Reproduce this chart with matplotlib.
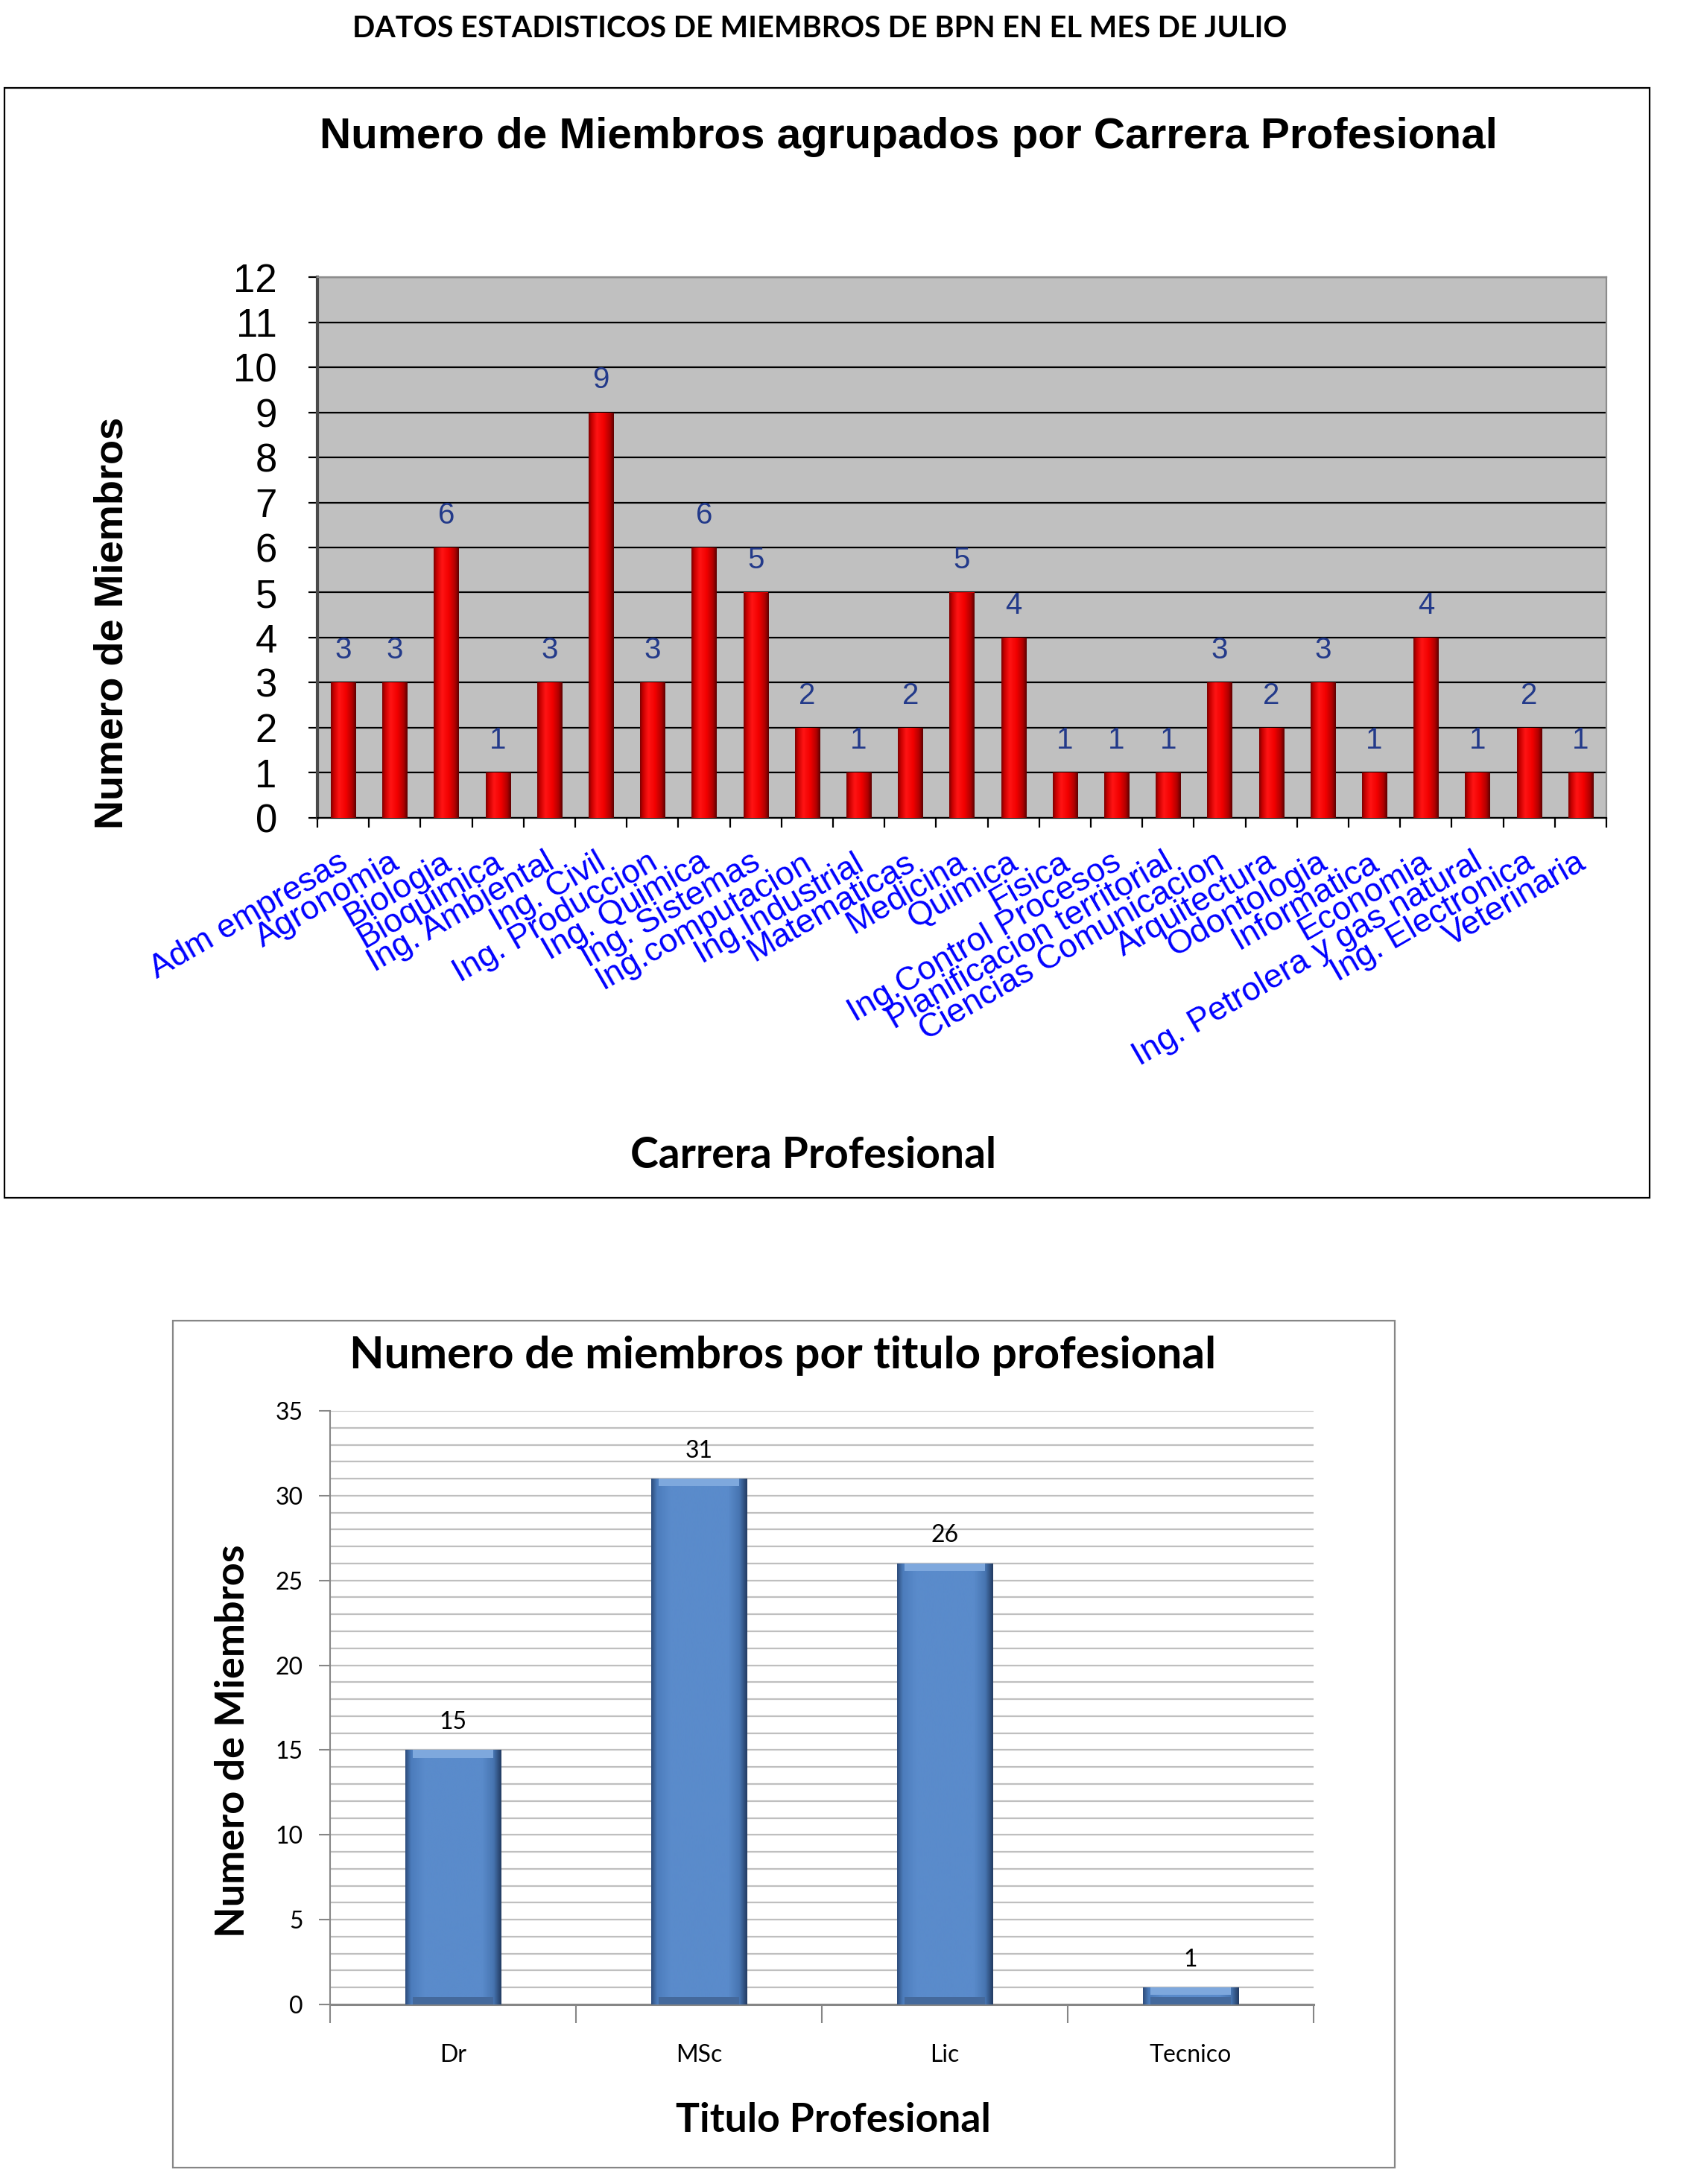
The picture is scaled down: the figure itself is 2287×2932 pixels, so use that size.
import numpy as np
import matplotlib
matplotlib.use("Agg")
import matplotlib.pyplot as plt
from matplotlib.patches import Rectangle
from matplotlib.colors import LinearSegmentedColormap
from matplotlib.transforms import ScaledTranslation

# ---------------- data ----------------
carreras = ["Adm empresas", "Agronomia", "Biologia", "Bioquimica", "Ing. Ambiental",
            "Ing. Civil", "Ing. Produccion", "Ing. Quimica", "Ing. Sistemas",
            "Ing.computacion", "Ing.Industrial", "Matematicas", "Medicina", "Quimica",
            "Fisica", "Ing.Control Procesos", "Planificacion territorial",
            "Ciencias Comunicacion", "Arquitectura", "Odontologia", "Informatica",
            "Economia", "Ing. Petrolera y gas natural", "Ing. Electronica", "Veterinaria"]
miembros_carrera = [3, 3, 6, 1, 3, 9, 3, 6, 5, 2, 1, 2, 5, 4, 1, 1, 1, 3, 2, 3, 1, 4, 1, 2, 1]
y1_ticks = list(range(0, 13))

titulos = ["Dr", "MSc", "Lic", "Tecnico"]
miembros_titulo = [15, 31, 26, 1]
y2_ticks = list(range(0, 36, 5))

titulo_general = "DATOS ESTADISTICOS DE MIEMBROS DE BPN EN EL MES DE JULIO"
titulo1 = "Numero de Miembros agrupados por Carrera Profesional"
titulo2 = "Numero de miembros por titulo profesional"

# ---------------- style ----------------
ARIAL = "Liberation Sans"
CALIBRI = "Lato"
W, H = 2287, 2932
DPI = 100

red_cmap = LinearSegmentedColormap.from_list(
    "red3d", [(0.0, "#7a0000"), (0.12, "#c80000"), (0.33, "#ff1414"),
              (0.6, "#f20000"), (0.85, "#b00000"), (1.0, "#5a0000")])
blue_cmap = LinearSegmentedColormap.from_list(
    "blue3d", [(0.0, "#2e4d7c"), (0.06, "#4c7cbc"), (0.2, "#5a8bcb"),
               (0.8, "#5a8bcb"), (0.92, "#4775b1"), (1.0, "#233b62")])


def shade_bars(ax, bars, cmap, zorder):
    grad = np.linspace(0, 1, 256).reshape(1, -1)
    for b in bars:
        x0, y0 = b.get_x(), b.get_y()
        w, h = b.get_width(), b.get_height()
        im = ax.imshow(grad, cmap=cmap, aspect="auto", interpolation="bicubic",
                       extent=(x0, x0 + w, y0, y0 + h), zorder=zorder)
        im.set_clip_path(b)


fig = plt.figure(figsize=(W / DPI, H / DPI), dpi=DPI)
fig.patch.set_facecolor("white")

fig.text(1100 / W, 1 - 38 / H, titulo_general, ha="center", va="center",
         fontsize=28.5, fontweight="bold", family=CALIBRI)

# ---------------- chart 1 ----------------
fig.add_artist(Rectangle((6 / W, 1 - 1608 / H), 2208 / W, 1490 / H,
                         transform=fig.transFigure, fill=False, ec="black", lw=1.6))
fig.text(1219 / W, 1 - 184 / H, titulo1, ha="center", va="center",
         fontsize=42, fontweight="bold", family=ARIAL)

ax1 = fig.add_axes([426 / W, 1 - 1098 / H, 1730 / W, 726 / H])
ax1.set_facecolor("#c0c0c0")
x1 = np.arange(len(carreras))
bars1 = ax1.bar(x1, miembros_carrera, width=0.48, color="#e00000", zorder=3)
shade_bars(ax1, bars1, red_cmap, 4)
for xi, v in zip(x1, miembros_carrera):
    ax1.annotate(str(v), (xi, v), xytext=(0, 31), textcoords="offset points",
                 ha="center", va="center", fontsize=29, color="#233a8a", family=ARIAL,
                 zorder=5)
ax1.set_xlim(-0.5, len(carreras) - 0.5)
ax1.set_ylim(0, 12)
ax1.set_yticks(y1_ticks)
ax1.set_yticklabels([str(t) for t in y1_ticks], family=ARIAL, fontsize=38)
ax1.yaxis.grid(True, color="black", lw=1.6, zorder=1)
ax1.set_axisbelow(True)
ax1.tick_params(axis="y", direction="out", length=9, width=1.6, color="black", pad=30)
ax1.set_xticks(x1)
ax1.set_xticklabels(carreras, rotation=30, ha="right", va="top", rotation_mode="anchor",
                    family=ARIAL, fontsize=32, color="#0000ff")
ax1.tick_params(axis="x", which="major", length=0, pad=28)
shift = ScaledTranslation(-7 / DPI, 0, fig.dpi_scale_trans)
for lbl in ax1.get_xticklabels():
    lbl.set_transform(lbl.get_transform() + shift)
ax1.set_xticks(np.arange(-0.5, len(carreras), 1.0), minor=True)
ax1.tick_params(axis="x", which="minor", direction="out", length=9, width=1.6, color="black")
ax1.spines["left"].set_color("#4a4a4a")
ax1.spines["left"].set_linewidth(3)
ax1.spines["bottom"].set_color("black")
ax1.spines["bottom"].set_linewidth(1.6)
for s in ("top", "right"):
    ax1.spines[s].set_color("#8c8c8c")
    ax1.spines[s].set_linewidth(1.6)
ax1.set_ylabel("Numero de Miembros", family=ARIAL, fontsize=39, fontweight="bold")
ax1.yaxis.set_label_coords(-0.145, 0.36)
fig.text(1092 / W, 1 - 1552 / H, "Carrera Profesional", ha="center", va="center",
         fontsize=41, fontweight="bold", family=CALIBRI)

# ---------------- chart 2 ----------------
fig.add_artist(Rectangle((232 / W, 1 - 2910 / H), 1640 / W, 1137 / H,
                         transform=fig.transFigure, fill=False, ec="#868686", lw=1.6))
fig.text(1051 / W, 1 - 1820 / H, titulo2, ha="center", va="center",
         fontsize=43.5, fontweight="bold", family=CALIBRI)

ax2 = fig.add_axes([443 / W, 1 - 2691 / H, 1320 / W, 797 / H])
x2 = np.arange(len(titulos))
bars2 = ax2.bar(x2, miembros_titulo, width=0.39, color="#5a8bcb", zorder=3)
shade_bars(ax2, bars2, blue_cmap, 4)
bev = 0.45
ax2.bar(x2, [bev] * len(x2), bottom=np.array(miembros_titulo) - bev, width=0.33,
        color="#7ea8dd", zorder=5)
ax2.bar(x2, [bev] * len(x2), bottom=0, width=0.33, color="#44699c", zorder=5)
for xi, v in zip(x2, miembros_titulo):
    ax2.annotate(str(v), (xi, v), xytext=(0, 27), textcoords="offset points",
                 ha="center", va="center", fontsize=23, color="black", family=CALIBRI,
                 zorder=6)
ax2.set_xlim(-0.5, len(titulos) - 0.5)
ax2.set_ylim(0, 35)
ax2.set_yticks(y2_ticks)
ax2.set_yticklabels([str(t) for t in y2_ticks], family=CALIBRI, fontsize=23)
ax2.set_yticks(np.arange(0, 36, 1), minor=True)
ax2.yaxis.grid(True, which="both", color="#bfbfbf", lw=1.6, zorder=1)
ax2.set_axisbelow(True)
ax2.tick_params(axis="y", which="major", direction="out", length=11, width=1.5,
                color="#868686", pad=15)
ax2.tick_params(axis="y", which="minor", length=0)
ax2.set_xticks(x2)
ax2.set_xticklabels(titulos, family=CALIBRI, fontsize=23)
ax2.tick_params(axis="x", which="major", length=0, pad=38)
ax2.set_xticks(np.arange(-0.5, len(titulos), 1.0), minor=True)
ax2.tick_params(axis="x", which="minor", direction="out", length=18, width=1.5,
                color="#868686")
ax2.spines["left"].set_color("#868686")
ax2.spines["left"].set_linewidth(1.5)
ax2.spines["bottom"].set_color("#868686")
ax2.spines["bottom"].set_linewidth(2.2)
ax2.spines["top"].set_visible(False)
ax2.spines["right"].set_visible(False)
fig.text(313 / W, 1 - 2337 / H, "Numero de Miembros", ha="center", va="center",
         rotation=90, fontsize=39, fontweight="bold", family=CALIBRI)
fig.text(1118 / W, 1 - 2846 / H, "Titulo Profesional", ha="center", va="center",
         fontsize=38.5, fontweight="bold", family=CALIBRI)

fig.savefig("out.png", dpi=DPI, facecolor="white")
